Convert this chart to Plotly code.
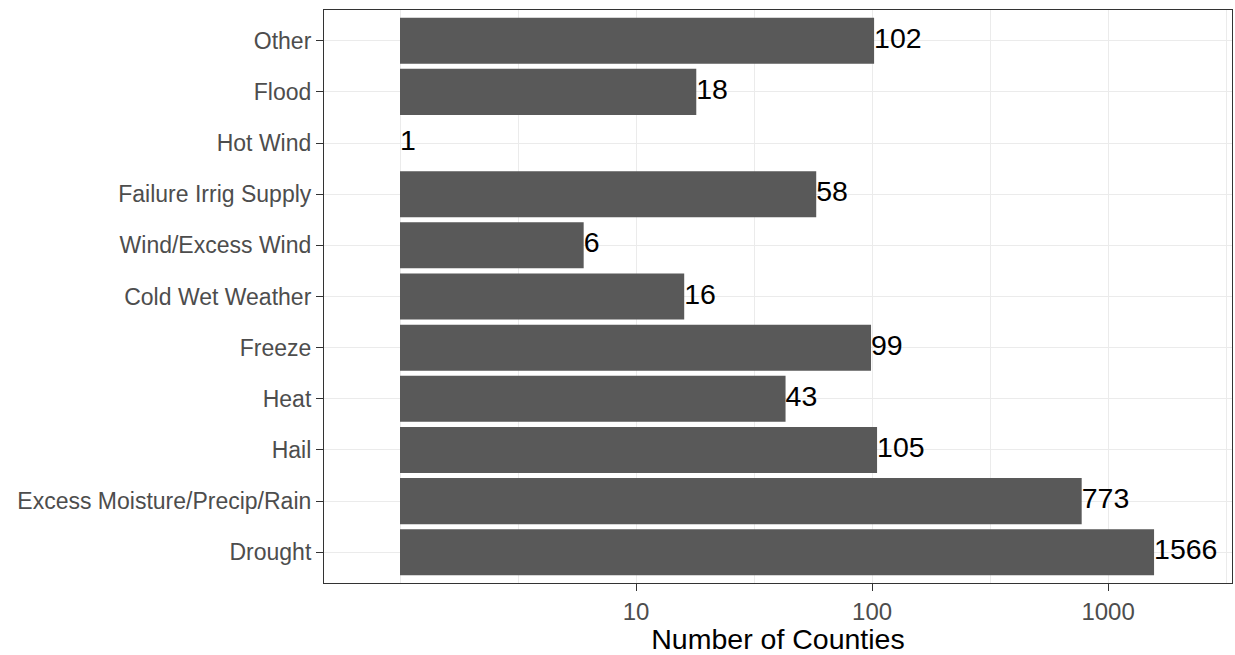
import plotly.graph_objects as go

categories = ["Drought", "Excess Moisture/Precip/Rain", "Hail", "Heat", "Freeze",
              "Cold Wet Weather", "Wind/Excess Wind", "Failure Irrig Supply",
              "Hot Wind", "Flood", "Other"]
counts = [1566, 773, 105, 43, 99, 16, 6, 58, 1, 18, 102]
x_ticks = [10, 100, 1000]
x_tick_labels = ["10", "100", "1000"]
minor_grid = [1, 10 ** 0.5, 10 ** 1.5, 10 ** 2.5, 10 ** 3.5]

base_value = 1
fig = go.Figure()
fig.add_trace(go.Bar(
    y=categories,
    x=[c - base_value for c in counts],
    base=base_value,
    orientation="h",
    width=0.9,
    marker=dict(color="#595959", line=dict(width=0)),
    showlegend=False,
    hoverinfo="skip",
))
fig.add_trace(go.Scatter(
    y=categories,
    x=counts,
    mode="text",
    text=[str(c) for c in counts],
    textposition="middle right",
    textfont=dict(family="Liberation Sans, Arial", size=28.5, color="black"),
    showlegend=False,
    hoverinfo="skip",
))

fig.update_layout(
    width=1235, height=655,
    margin=dict(l=324, r=3, t=10, b=72, autoexpand=False),
    paper_bgcolor="white",
    plot_bgcolor="white",
    font=dict(family="Liberation Sans, Arial", color="#4D4D4D"),
    bargap=0.1,
)
fig.update_xaxes(
    type="log",
    range=[-0.322, 3.525],
    tickvals=x_ticks,
    ticktext=x_tick_labels,
    tickfont=dict(size=24, color="#4D4D4D"),
    ticks="outside", ticklen=7, tickcolor="#333333", tickwidth=1.2,
    ticklabelstandoff=0,
    showgrid=True, gridcolor="#EBEBEB", gridwidth=1.2,
    minor=dict(tickvals=minor_grid, showgrid=True, gridcolor="#EBEBEB", gridwidth=0.6, ticklen=0),
    showline=True, mirror=True, linecolor="#333333", linewidth=1.2,
    zeroline=False,
    automargin=False,
    title=dict(text="Number of Counties", font=dict(size=28.5, color="black"), standoff=8),
)
fig.update_yaxes(
    type="category",
    categoryorder="array", categoryarray=categories,
    range=[-0.6, len(categories) - 0.4],
    tickfont=dict(size=23, color="#4D4D4D"),
    ticks="outside", ticklen=7, tickcolor="#333333", tickwidth=1.2,
    showgrid=True, gridcolor="#EBEBEB", gridwidth=1.2,
    showline=True, mirror=True, linecolor="#333333", linewidth=1.2,
    zeroline=False,
    automargin=False,
)

fig.write_html("out.html", config={"displayModeBar": False},
               post_script="document.body.style.margin='0';")
